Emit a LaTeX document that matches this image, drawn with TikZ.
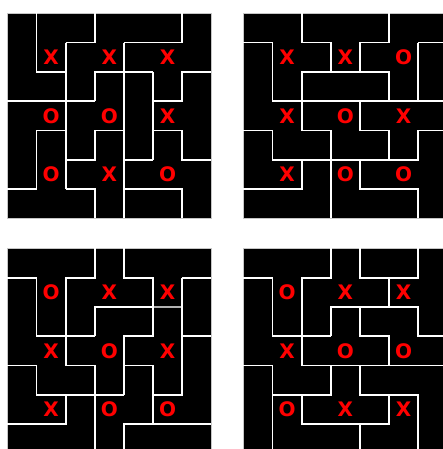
\documentclass[tikz,border=0pt]{standalone}
\usepackage{fontspec}
\newfontfamily\glyphfont{DejaVu Sans}
\begin{document}
\begin{tikzpicture}[x=1pt,y=1pt]
\tikzset{
  board/.style={fill=black, draw=gray!45, line width=0.9pt},
  wall/.style={draw=white, line width=1.8pt, line join=miter},
  softwall/.style={draw=gray!60, line width=1.6pt},
  glyph/.style={text=red, font=\glyphfont\bfseries\fontsize{20}{20}\selectfont, inner sep=0pt, anchor=center},
  panel/.style={x=29.15pt, y=-29.3pt}
}
\useasboundingbox (0,0) rectangle (443,-449);
\clip (0,0) rectangle (443,-449);
% ---------- panel 1 ----------
\begin{scope}[shift={(7.3pt,-13.3pt)}, panel]
\filldraw[board] (0,0) rectangle (7,7);
\draw[wall] (1,0)--(1,2)--(2,2);
\draw[wall] (2,1)--(2,6);
\draw[wall] (2,1)--(3,1)--(3,0);
\draw[wall] (4,1)--(6,1)--(6,0);
\draw[wall] (4,1)--(4,7);
\draw[wall] (3,3)--(3,2)--(5,2);
\draw[wall] (5,2)--(5,5);
\draw[wall] (0,3)--(3,3);
\draw[wall] (5,3)--(6,3)--(6,2)--(7,2);
\draw[wall] (1,4)--(2,4);
\draw[wall] (1,4)--(1,6)--(0,6);
\draw[wall] (3,4)--(4,4);
\draw[wall] (3,4)--(3,5)--(2,5);
\draw[wall] (2,6)--(3,6)--(3,7);
\draw[wall] (5,4)--(6,4)--(6,5)--(7,5);
\draw[wall] (4,5)--(5,5);
\draw[wall] (4,6)--(6,6)--(6,7);
\node[glyph] (a11) at (1.5,1.5) {X};
\node[glyph] (a31) at (3.5,1.5) {X};
\node[glyph] (a51) at (5.5,1.5) {X};
\node[glyph] (a13) at (1.5,3.5) {O};
\node[glyph] (a33) at (3.5,3.5) {O};
\node[glyph] (a53) at (5.5,3.5) {X};
\node[glyph] (a15) at (1.5,5.5) {O};
\node[glyph] (a35) at (3.5,5.5) {X};
\node[glyph] (a55) at (5.5,5.5) {O};
\end{scope}
% ---------- panel 2 ----------
\begin{scope}[shift={(243.3pt,-13.3pt)}, panel]
\filldraw[board] (0,0) rectangle (7,7);
\draw[wall] (0,1)--(1,1)--(1,3)--(2,3)--(2,4)--(3,4)--(3,7);
\draw[wall] (2,0)--(2,1)--(3,1)--(3,2);
\draw[wall] (4,2)--(4,1)--(5,1)--(5,0);
\draw[wall] (2,3)--(2,2)--(5,2)--(5,3)--(7,3);
\draw[wall] (2,3)--(5,3);
\draw[wall] (6,1)--(7,1);
\draw[wall] (6,1)--(6,3);
\draw[wall] (4,3)--(4,4)--(5,4)--(5,5);
\draw[wall] (0,4)--(1,4)--(1,5)--(6,5)--(6,4)--(7,4);
\draw[wall] (2,5)--(2,6)--(0,6);
\draw[wall] (4,5)--(4,6)--(6,6)--(6,7);
\node[glyph] (b11) at (1.5,1.5) {X};
\node[glyph] (b31) at (3.5,1.5) {X};
\node[glyph] (b51) at (5.5,1.5) {O};
\node[glyph] (b13) at (1.5,3.5) {X};
\node[glyph] (b33) at (3.5,3.5) {O};
\node[glyph] (b53) at (5.5,3.5) {X};
\node[glyph] (b15) at (1.5,5.5) {X};
\node[glyph] (b35) at (3.5,5.5) {O};
\node[glyph] (b55) at (5.5,5.5) {O};
\end{scope}
% ---------- panel 3 ----------
\begin{scope}[shift={(7.3pt,-248.3pt)}, panel]
\filldraw[board] (0,0) rectangle (7,7);
\draw[softwall] (5,2)--(6,2);
\draw[wall] (0,1)--(1,1)--(1,3)--(3,3);
\draw[wall] (3,0)--(3,1)--(2,1)--(2,4)--(3,4)--(3,7);
\draw[wall] (3,3)--(3,2)--(5,2);
\draw[wall] (4,0)--(4,1)--(5,1)--(5,3)--(4,3)--(4,5);
\draw[wall] (6,1)--(7,1);
\draw[wall] (6,1)--(6,5)--(5,5);
\draw[wall] (6,3)--(7,3);
\draw[wall] (4,4)--(5,4)--(5,6);
\draw[wall] (0,4)--(1,4)--(1,5)--(4,5);
\draw[wall] (2,5)--(2,6)--(0,6);
\draw[wall] (4,7)--(4,6)--(7,6);
\node[glyph] (c11) at (1.5,1.5) {O};
\node[glyph] (c31) at (3.5,1.5) {X};
\node[glyph] (c51) at (5.5,1.5) {X};
\node[glyph] (c13) at (1.5,3.5) {X};
\node[glyph] (c33) at (3.5,3.5) {O};
\node[glyph] (c53) at (5.5,3.5) {X};
\node[glyph] (c15) at (1.5,5.5) {X};
\node[glyph] (c35) at (3.5,5.5) {O};
\node[glyph] (c55) at (5.5,5.5) {O};
\end{scope}
% ---------- panel 4 ----------
\begin{scope}[shift={(243.3pt,-248.3pt)}, panel]
\filldraw[board] (0,0) rectangle (7,7);
\draw[wall] (0,1)--(1,1)--(1,3)--(3,3);
\draw[wall] (3,0)--(3,1)--(2,1)--(2,4)--(7,4);
\draw[wall] (3,3)--(3,2)--(6,2)--(6,3)--(7,3);
\draw[wall] (4,2)--(4,3)--(5,3)--(5,4);
\draw[wall] (4,0)--(4,1)--(6,1)--(6,0);
\draw[wall] (5,1)--(5,2);
\draw[wall] (0,4)--(1,4)--(1,7);
\draw[wall] (1,5)--(3,5)--(3,4);
\draw[wall] (4,4)--(4,5)--(6,5)--(6,7);
\draw[wall] (2,5)--(2,6)--(5,6)--(5,5);
\draw[wall] (4,6)--(4,7);
\node[glyph] (d11) at (1.5,1.5) {O};
\node[glyph] (d31) at (3.5,1.5) {X};
\node[glyph] (d51) at (5.5,1.5) {X};
\node[glyph] (d13) at (1.5,3.5) {X};
\node[glyph] (d33) at (3.5,3.5) {O};
\node[glyph] (d53) at (5.5,3.5) {O};
\node[glyph] (d15) at (1.5,5.5) {O};
\node[glyph] (d35) at (3.5,5.5) {X};
\node[glyph] (d55) at (5.5,5.5) {X};
\end{scope}
\end{tikzpicture}
\end{document}
